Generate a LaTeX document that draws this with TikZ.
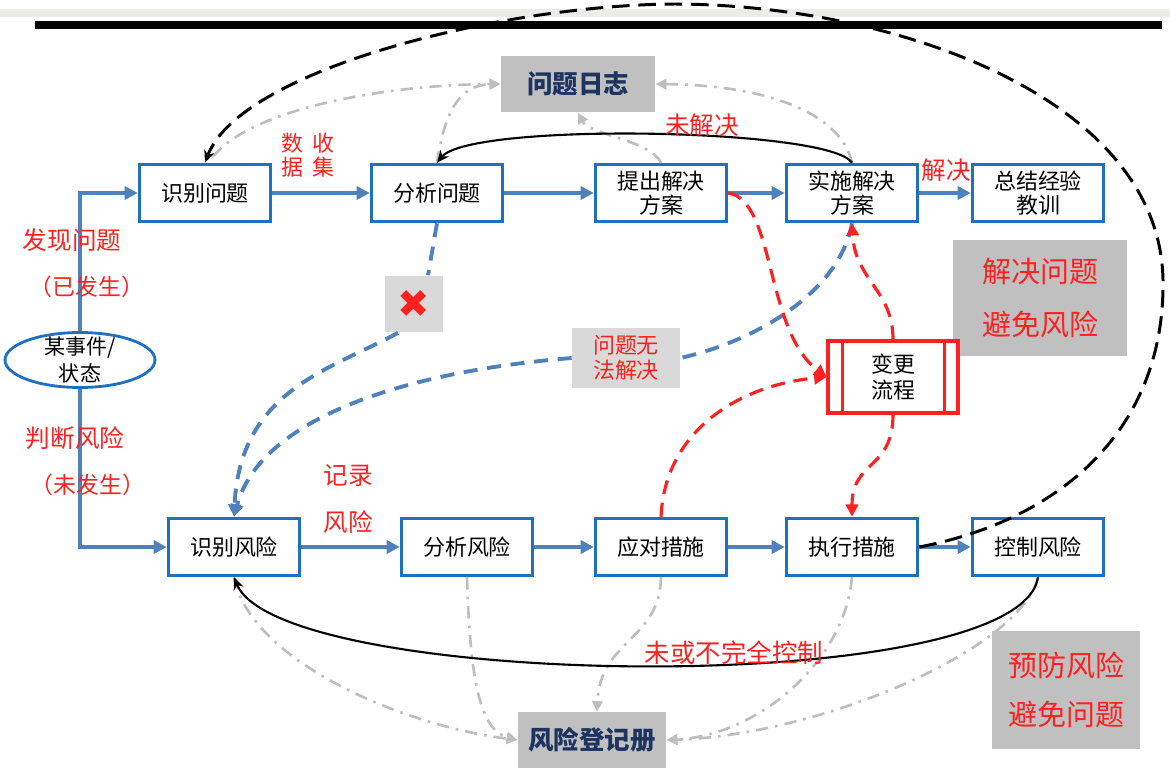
\documentclass[tikz,border=0pt]{standalone}
\usepackage{fontspec}
\setmainfont{Noto Sans CJK SC}
\newfontfamily\symfont{DejaVu Sans}
\usetikzlibrary{arrows.meta,positioning,shapes.geometric,calc}
\definecolor{boxblue}{RGB}{31,112,193}
\definecolor{lineblue}{RGB}{79,129,189}
\definecolor{hotred}{RGB}{255,32,32}
\definecolor{navy}{RGB}{30,52,96}
\definecolor{logfill}{RGB}{192,192,192}
\definecolor{notefill}{RGB}{217,217,217}
\definecolor{dotgray}{RGB}{190,190,190}
\definecolor{stripgray}{RGB}{236,236,232}
\tikzset{
  proc/.style={draw=boxblue, line width=2pt, fill=white, minimum width=2.62cm, minimum height=1.14cm, align=center, inner sep=1pt, font=\fontsize{12.5}{14}\selectfont},
  logbox/.style={fill=logfill, minimum width=3.1cm, minimum height=1.14cm, text=navy, font=\fontsize{14.5}{16}\selectfont\bfseries},
  note/.style={fill=notefill, align=center, text=hotred, inner sep=1pt},
  lbl/.style={text=hotred, align=center, inner sep=1pt, font=\fontsize{14}{16}\selectfont},
  flow/.style={draw=lineblue, line width=2.2pt, -{Triangle[length=7.5pt,width=7.5pt]}},
  loopback/.style={draw=black, line width=1.2pt, -{Stealth[length=7pt,width=6pt]}},
  bigloop/.style={draw=black, line width=1.7pt, dash pattern=on 10pt off 5pt, -{Stealth[length=7pt,width=6pt]}},
  bdash/.style={draw=lineblue, line width=2.2pt, dash pattern=on 8pt off 5.5pt},
  barrow/.style={bdash, -{Triangle[length=7pt,width=7pt]}},
  rdash/.style={draw=hotred, line width=1.8pt, dash pattern=on 8pt off 5pt, -{Triangle[length=7pt,width=7pt]}},
  logline/.style={draw=dotgray, line width=1.5pt, dash pattern=on 7pt off 4pt on 1.5pt off 4pt, -{Triangle[length=6pt,width=6pt]}}
}

\begin{document}
\begin{tikzpicture}[x=0.02cm, y=-0.02cm]
\useasboundingbox (0,0) rectangle (1170,774);
\fill[stripgray] (0,9) rectangle (1170,17);
\fill[black] (35,21) rectangle (1162,29);

\node[proc] (ip) at (205,193) {识别问题};
\node[proc] (ap) at (437,193) {分析问题};
\node[proc] (tp) at (661,193) {提出解决\\方案};
\node[proc] (sp) at (852,193) {实施解决\\方案};
\node[proc] (lp) at (1038,193) {总结经验\\教训};
\node[proc] (ir) at (234,547) {识别风险};
\node[proc] (ar) at (467,547) {分析风险};
\node[proc] (rp) at (661,547) {应对措施};
\node[proc] (ep) at (852,547) {执行措施};
\node[proc] (cr) at (1038,547) {控制风险};

\node[draw=boxblue, line width=1.6pt, ellipse, minimum width=3cm, minimum height=1.1cm, inner sep=0pt] (ev) at (80,360) {};
\node[align=center, inner sep=0pt, font=\fontsize{12}{15}\selectfont] (evt) at (ev) {某事件/\\状态};

\node[logbox] (lg) at (578,84) {问题日志};
\node[logbox, minimum width=2.98cm, minimum height=1.12cm] (rr) at (592,740) {风险登记册};
\node[note, minimum width=1.16cm, minimum height=1.14cm, font=\symfont\fontsize{22}{22}\selectfont] (x1) at (414,304) {✖};
\node[note, minimum width=2.16cm, minimum height=1.2cm, font=\fontsize{12.5}{14}\selectfont] (nf) at (626,358) {问题无\\法解决};
\node[note, fill=logfill, minimum width=3.5cm, minimum height=2.34cm, font=\fontsize{16.5}{30}\selectfont] (sg) at (1040,298) {解决问题\\避免风险};
\node[note, fill=logfill, minimum width=2.96cm, minimum height=2.36cm, font=\fontsize{16.5}{28}\selectfont] (pg) at (1066,690) {预防风险\\避免问题};

\node[draw=hotred, line width=1.8pt, fill=white, minimum width=2.6cm, minimum height=1.44cm, align=center, font=\fontsize{12.5}{15}\selectfont] (cp) at (893,377) {变更\\流程};
\draw[hotred, line width=1.8pt] ($(cp.north west)+(16,0)$) -- ($(cp.south west)+(16,0)$);
\draw[hotred, line width=1.8pt] ($(cp.north east)+(-15,0)$) -- ($(cp.south east)+(-15,0)$);

\draw[logline] ($(ip.north)+(8,-6)$) .. controls (250,110) and (380,85) .. (lg.west);
\draw[logline] (ap.north) .. controls (445,110) and (460,85) .. (lg.west);
\draw[logline] (tp.north) .. controls (650,140) and (590,135) .. (lg.south);
\draw[logline] (sp.north) .. controls (840,110) and (760,85) .. (lg.east);
\draw[logline] (ir.south) .. controls (250,660) and (400,725) .. (rr.west);
\draw[logline] (ar.south) .. controls (470,680) and (480,730) .. (rr.west);
\draw[logline] (rp.south) .. controls (660,640) and (600,640) .. ($(rr.north)+(5,0)$);
\draw[logline] (ep.south) .. controls (845,660) and (760,735) .. (rr.east);
\draw[logline] (cr.south) .. controls (1020,650) and (820,735) .. (rr.east);

\draw[flow] (ev.north) |- (ip.west);
\draw[flow] (ev.south) |- (ir.west);
\foreach \a/\b in {ip/ap,ap/tp,tp/sp,sp/lp,ir/ar,ar/rp,rp/ep,ep/cr}
  \draw[flow] (\a) -- (\b);

\draw[loopback] (sp.north) .. controls (830,128) and (470,122) .. (ap.north);
\draw[loopback] (cr.south) .. controls (1020,700) and (280,690) .. (ir.south);
\draw[bigloop] (ep.east) .. controls (1060,520) and (1165,430) .. (1163,280)
  .. controls (1160,100) and (900,5) .. (675,4)
  .. controls (500,5) and (240,70) .. (ip.north);

\draw[bdash] (ap.south) -- ($(x1.north)+(14,0)$);
\draw[barrow] ($(x1.south)+(-16,0)$) .. controls (330,370) and (240,390) .. (ir.north);
\draw[bdash] (sp.south) .. controls (840,290) and (760,340) .. (nf.east);
\draw[barrow] (nf.west) .. controls (400,372) and (260,420) .. (ir.north);

\draw[rdash] (tp.east) .. controls (775,200) and (765,330) .. (cp.west);
\draw[rdash] (rp.north) .. controls (665,430) and (740,385) .. (cp.west);
\draw[rdash] (cp.north) .. controls (893,290) and (855,280) .. (sp.south);
\draw[rdash] (cp.south) .. controls (893,470) and (852,460) .. (ep.north);

\node[lbl, font=\fontsize{12.5}{13.6}\selectfont] (dc) at (308,155) {数\hspace{5pt}收\\据\hspace{5pt}集};
\node[lbl] (fx) at (72,240) {发现问题};
\node[lbl, font=\fontsize{13}{15}\selectfont] (yf) at (87,287) {（已发生）};
\node[lbl] (pd) at (75,438) {判断风险};
\node[lbl, font=\fontsize{13}{15}\selectfont] (wf) at (88,485) {（未发生）};
\node[lbl] (jl) at (348,475) {记录};
\node[lbl] (fl) at (348,522) {风险};
\node[lbl] (wj) at (702,125) {未解决};
\node[lbl] (jj) at (946,170) {解决};
\node[lbl, font=\fontsize{14.5}{16}\selectfont] (wk) at (734,653) {未或不完全控制};
\end{tikzpicture}
\end{document}
